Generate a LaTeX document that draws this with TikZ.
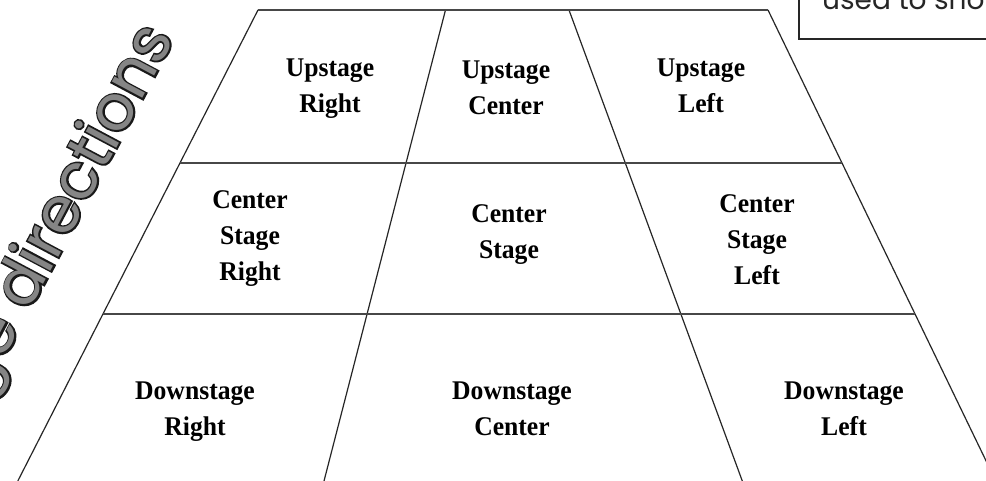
\documentclass[tikz,border=0pt]{standalone}
\usepackage{fontspec}
\setmainfont{Liberation Serif}
\newfontfamily\gothicfont{Poppins}
\newcommand\cellstack[1]{\vtop{\halign{\hfil##\hfil\cr#1\crcr}}}
\newcommand\strokedtext[1]{\special{pdf:code 1 Tr 3.4 w 0.1 G}#1\special{pdf:code 0 Tr}}
\begin{document}
\begin{tikzpicture}[x=1pt,y=-1pt,
  sideline/.style={line width=1.2pt,draw=black!85},
  rowline/.style={line width=2.4pt,draw=black!72},
  bottomline/.style={line width=0.8pt,draw=black!20},
  cell/.style={anchor=base,inner sep=0pt,xscale=0.95,font=\fontsize{27}{36}\selectfont\bfseries},
  notebox/.style={line width=1.4pt,draw=black!85},
  notetext/.style={anchor=base west,inner sep=0pt,font=\gothicfont\fontsize{28}{34}\selectfont,text=black!85},
  titletext/.style={rotate=62,anchor=base east,inner sep=0pt,font=\gothicfont\fontsize{63}{69}\selectfont}
]
\useasboundingbox (0,0) rectangle (986,481);
\clip (0,0) rectangle (986,481);
\fill[white] (0,0) rectangle (986,481);

% stage corner points
\coordinate (TL) at (258,10);
\coordinate (T1) at (445.5,10);
\coordinate (T2) at (569,10);
\coordinate (TR) at (768,10);
\coordinate (L1) at (180,163);
\coordinate (A1) at (406,163);
\coordinate (B1) at (625.3,163);
\coordinate (R1) at (842,163);
\coordinate (L2) at (103,314);
\coordinate (A2) at (367,314);
\coordinate (B2) at (680.9,314);
\coordinate (R2) at (915,314);
\coordinate (BL) at (17.8,481);
\coordinate (A3) at (324,481);
\coordinate (B3) at (742.3,481);
\coordinate (BR) at (995.8,481);

% slanted lines
\draw[sideline] (TL) -- (BL);
\draw[sideline] (T1) -- (A3);
\draw[sideline] (T2) -- (B3);
\draw[sideline] (TR) -- (BR);
% horizontal lines
\draw[rowline] (TL) -- (TR);
\draw[rowline] (L1) -- (R1);
\draw[rowline] (L2) -- (R2);
\draw[bottomline] (BL) -- (BR);

% cell labels
\node[cell] (ur) at (330,77) {\cellstack{Upstage\cr Right}};
\node[cell] (uc) at (506,79) {\cellstack{Upstage\cr Center}};
\node[cell] (ul) at (701,77) {\cellstack{Upstage\cr Left}};
\node[cell] (csr) at (250,209) {\cellstack{Center\cr Stage\cr Right}};
\node[cell] (cs) at (509,223) {\cellstack{Center\cr Stage}};
\node[cell] (csl) at (757,213) {\cellstack{Center\cr Stage\cr Left}};
\node[cell] (dr) at (195,399) {\cellstack{Downstage\cr Right}};
\node[cell] (dc) at (512,399) {\cellstack{Downstage\cr Center}};
\node[cell] (dl) at (844,399) {\cellstack{Downstage\cr Left}};

% note box at top right
\draw[notebox] (799,-20) rectangle (1000,39);
\node[notetext] (note) at (822,10) {used to show};

% rotated title: dark outline below, grey fill on top
\node[titletext] (title) at (175,38) {\strokedtext{stage directions}};
\node[titletext,text=black!48] (titlefill) at (title.base east) {stage directions};
\end{tikzpicture}
\end{document}
